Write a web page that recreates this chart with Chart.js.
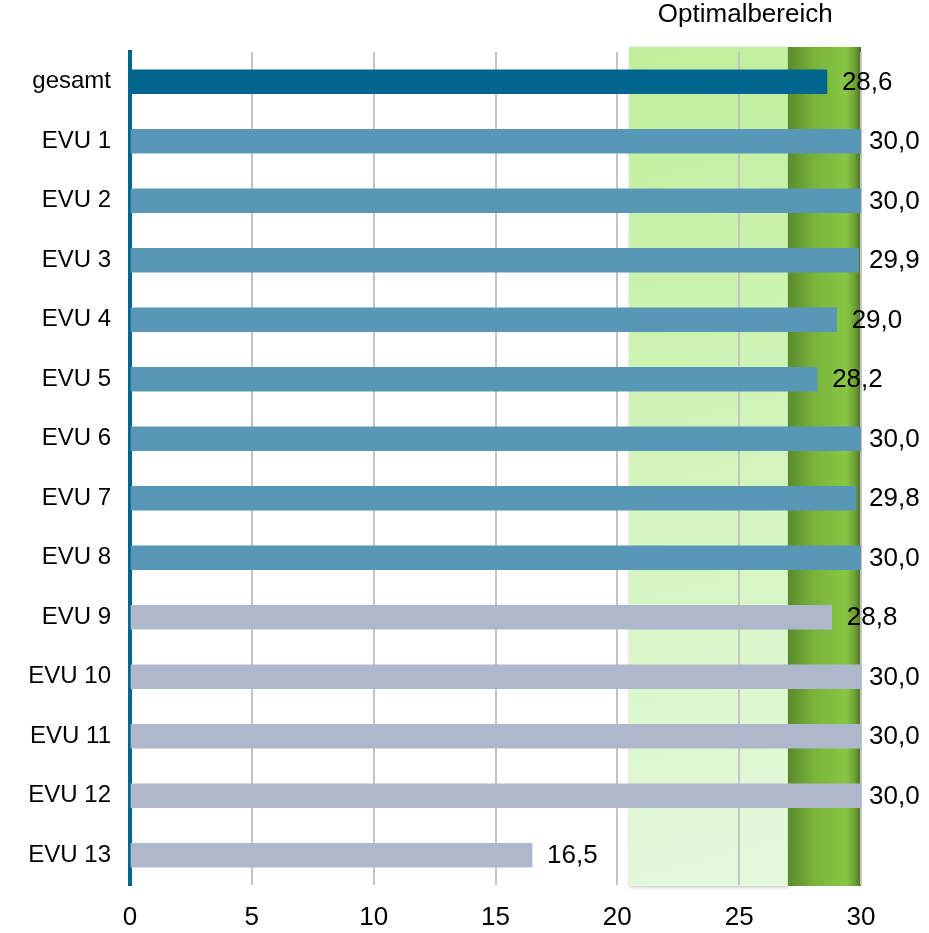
<!DOCTYPE html>
<html>
<head>
<meta charset="utf-8">
<script src="https://cdn.jsdelivr.net/npm/chart.js@4/dist/chart.umd.min.js"></script>
<style>
  body { margin: 0; background: #fff; }
  canvas { display: block; }
</style>
</head>
<body>
<canvas id="myChart" width="929" height="933"></canvas>
<script>
// data
const categories = ['gesamt', 'EVU 1', 'EVU 2', 'EVU 3', 'EVU 4', 'EVU 5', 'EVU 6',
  'EVU 7', 'EVU 8', 'EVU 9', 'EVU 10', 'EVU 11', 'EVU 12', 'EVU 13'];
const values = [28.6, 30.0, 30.0, 29.9, 29.0, 28.2, 30.0, 29.8, 30.0, 28.8, 30.0, 30.0, 30.0, 16.5];
const groups = ['total', 'a', 'a', 'a', 'a', 'a', 'a', 'a', 'a', 'b', 'b', 'b', 'b', 'b'];
const xTicks = [0, 5, 10, 15, 20, 25, 30];
const optimalRange = [20.5, 30];   // light + dark band
const optimalCore = [27, 30];      // dark part
const bandTitle = 'Optimalbereich';

const groupColors = { total: '#00668f', a: '#5898b6', b: '#adb8cc' };
const FONT = 'Arial, "Liberation Sans", sans-serif';

function fmt(v) { return v.toFixed(1).replace('.', ','); }

// green bands behind the grid
const bandPlugin = {
  id: 'bands',
  beforeDraw(chart) {
    const ctx = chart.ctx, x = chart.scales.x, area = chart.chartArea;
    const top = area.top - 5, bottom = area.bottom + 1;
    const x1 = x.getPixelForValue(optimalRange[0]);
    const x2 = x.getPixelForValue(optimalCore[0]);
    const x3 = x.getPixelForValue(optimalCore[1]);
    ctx.save();
    ctx.shadowColor = 'rgba(0,0,0,0.25)';
    ctx.shadowBlur = 4;
    ctx.shadowOffsetY = 1;
    let g = ctx.createLinearGradient(x1, top, x2 + 60, bottom);
    g.addColorStop(0, '#c0ef9a');
    g.addColorStop(1, '#e6f9df');
    ctx.fillStyle = g;
    ctx.fillRect(x1, top, x2 - x1, bottom - top);
    ctx.restore();

    ctx.save();
    g = ctx.createLinearGradient(x2, 0, x3, 0);
    g.addColorStop(0, '#5a8a2c');
    g.addColorStop(0.35, '#78b33a');
    g.addColorStop(0.8, '#88c744');
    g.addColorStop(0.92, '#6e9e34');
    g.addColorStop(1, '#4a6c22');
    ctx.fillStyle = g;
    ctx.fillRect(x2, top, x3 - x2, bottom - top);

    ctx.fillStyle = '#000';
    ctx.font = '26px ' + FONT;
    ctx.textAlign = 'center';
    ctx.textBaseline = 'middle';
    ctx.fillText(bandTitle, (x1 + x3) / 2, 15);
    ctx.restore();
  }
};

// value labels right of the bars, kept inside the right margin
const labelPlugin = {
  id: 'valueLabels',
  afterDatasetsDraw(chart) {
    const ctx = chart.ctx;
    const meta = chart.getDatasetMeta(0);
    const maxX = chart.chartArea.right + 8;
    ctx.save();
    ctx.fillStyle = '#000';
    ctx.font = '26px ' + FONT;
    ctx.textAlign = 'left';
    ctx.textBaseline = 'middle';
    meta.data.forEach((bar, i) => {
      ctx.fillText(fmt(values[i]), Math.min(bar.x + 15, maxX), bar.y + 1);
    });
    ctx.restore();
  }
};

const ctx = document.getElementById('myChart').getContext('2d');
new Chart(ctx, {
  type: 'bar',
  data: {
    labels: categories,
    datasets: [{
      data: values,
      backgroundColor: groups.map(g => groupColors[g]),
      barThickness: 24,
      borderWidth: 0
    }]
  },
  options: {
    indexAxis: 'y',
    responsive: false,
    animation: false,
    layout: { padding: { top: 52, right: 68, left: 0, bottom: 0 } },
    plugins: {
      legend: { display: false },
      tooltip: { enabled: false }
    },
    scales: {
      x: {
        min: 0,
        max: 30,
        afterBuildTicks: s => { s.ticks = xTicks.map(v => ({ value: v })); },
        afterFit: s => { s.height = 48; },
        grid: { color: '#c4c4c4', lineWidth: 2, drawTicks: false },
        border: { display: false },
        ticks: { color: '#000', font: { size: 26, family: FONT }, padding: 17 }
      },
      y: {
        afterFit: s => { s.width = 130; },
        grid: { display: false, drawTicks: false },
        border: { color: '#00668f', width: 4 },
        ticks: { color: '#000', font: { size: 24, family: FONT }, padding: 19 }
      }
    }
  },
  plugins: [bandPlugin, labelPlugin]
});
</script>
</body>
</html>
